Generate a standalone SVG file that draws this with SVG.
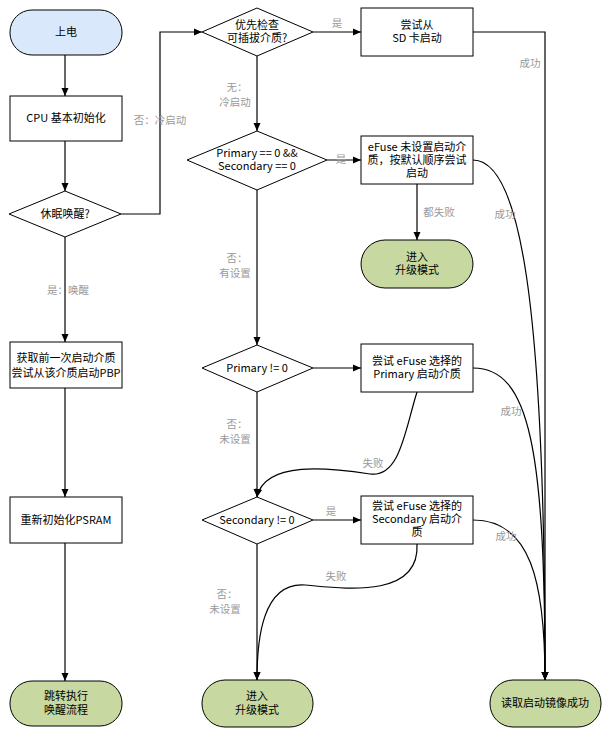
<svg xmlns="http://www.w3.org/2000/svg" width="614" height="740" viewBox="0 0 614 740">
<defs>
<marker id="a" markerWidth="10" markerHeight="10" refX="9" refY="5" orient="auto" markerUnits="userSpaceOnUse"><path d="M1,1.5 L9,5 L1,8.5 Z" fill="#000"/></marker>
<style>
text{font-family:"Noto Sans CJK SC","Noto Sans",sans-serif;font-size:11px;text-anchor:middle;fill:#000}
.l{fill:#999;font-size:10.5px}
.c{fill:none;stroke:#000;stroke-width:1.2;marker-end:url(#a)}
.b{fill:#fff;stroke:#000;stroke-width:1}
.t{fill:#c7d8a0;stroke:#000;stroke-width:1}
</style>
</defs>
<rect width="614" height="740" fill="#fff"/>
<g id="connectors">
<path class="c" d="M65 55V96"/>
<path class="c" d="M65 141V191"/>
<path class="c" d="M65 237V342"/>
<path class="c" d="M65 388V497"/>
<path class="c" d="M65 543V681"/>
<path class="c" d="M121 214H160V32H202"/>
<path class="c" d="M313 32H361"/>
<path class="c" d="M257 56V131"/>
<path class="c" d="M327 160H361"/>
<path class="c" d="M417 184V240"/>
<path class="c" d="M257 190V345"/>
<path class="c" d="M313 368H361"/>
<path class="c" d="M257 392V497"/>
<path class="c" d="M313 520H361"/>
<path class="c" d="M257 544V680"/>
<path class="c" d="M473 32H545V680"/>
<path class="c" d="M473 160C520 160 545 300 545 680"/>
<path class="c" d="M473 368C530 368 545 450 545 680"/>
<path class="c" d="M473 520C530 520 545 580 545 680"/>
<path class="c" d="M417 392C405 430 400 478 370 474C330 468 265 460 257 497"/>
<path class="c" d="M417 544C420 600 340 588 305 585C262 582 257 640 257 680"/>
<text class="l" x="160" y="124">否：冷启动</text>
<text class="l" x="68" y="294">是：唤醒</text>
<text class="l" x="337" y="27">是</text>
<text class="l" x="530" y="67">成功</text>
<text class="l" x="237" y="91">无：</text>
<text class="l" x="235" y="106">冷启动</text>
<text class="l" x="341" y="163">是</text>
<text class="l" x="439" y="216">都失败</text>
<text class="l" x="505" y="218">成功</text>
<text class="l" x="237" y="262">否：</text>
<text class="l" x="235" y="277">有设置</text>
<text class="l" x="237" y="428">否：</text>
<text class="l" x="235" y="443">未设置</text>
<text class="l" x="373" y="467">失败</text>
<text class="l" x="331" y="515">是</text>
<text class="l" x="506" y="540">成功</text>
<text class="l" x="336" y="580">失败</text>
<text class="l" x="227" y="598">否：</text>
<text class="l" x="225" y="613">未设置</text>
<text class="l" x="511" y="415">成功</text>
</g>
<g id="start"><rect x="10" y="10" width="112" height="45" rx="22" fill="#dae8fc" stroke="#000"/><text x="66" y="36">上电</text></g>
<g id="cpu"><rect class="b" x="10" y="96" width="112" height="45"/><text x="66" y="122">CPU 基本初始化</text></g>
<g id="sleep"><path class="b" d="M65 191L121 214L65 237L9 214Z"/><text x="65" y="218">休眠唤醒?</text></g>
<g id="pbp"><rect class="b" x="10" y="342" width="112" height="46"/><text x="66" y="362">获取前一次启动介质</text><text x="66" y="377">尝试从该介质启动PBP</text></g>
<g id="psram"><rect class="b" x="10" y="497" width="112" height="46"/><text x="66" y="524">重新初始化PSRAM</text></g>
<g id="wake"><rect class="t" x="10" y="681" width="112" height="45" rx="22"/><text x="66" y="700">跳转执行</text><text x="66" y="714">唤醒流程</text></g>
<g id="prio"><path class="b" d="M257 8L313 32L257 56L202 32Z"/><text x="257" y="29">优先检查</text><text x="257" y="42">可插拔介质?</text></g>
<g id="both"><path class="b" d="M257 131L327 160L257 190L187 160Z"/><text x="257" y="157">Primary == 0 &amp;&amp;</text><text x="257" y="170">Secondary == 0</text></g>
<g id="pri"><path class="b" d="M257 345L313 368L257 392L202 368Z"/><text x="257" y="372">Primary != 0</text></g>
<g id="sec"><path class="b" d="M257 497L313 520L257 544L202 520Z"/><text x="257" y="524">Secondary  != 0</text></g>
<g id="upg2"><rect class="t" x="202" y="680" width="111" height="47" rx="23"/><text x="257" y="700">进入</text><text x="257" y="714">升级模式</text></g>
<g id="sd"><rect class="b" x="361" y="8" width="112" height="48"/><text x="417" y="29">尝试从</text><text x="417" y="42">SD 卡启动</text></g>
<g id="efuse"><rect class="b" x="361" y="136" width="112" height="48"/><text x="417" y="151">eFuse 未设置启动介</text><text x="417" y="164">质，按默认顺序尝试</text><text x="417" y="177">启动</text></g>
<g id="upg1"><rect class="t" x="361" y="240" width="112" height="48" rx="24"/><text x="417" y="261">进入</text><text x="417" y="274">升级模式</text></g>
<g id="trypri"><rect class="b" x="361" y="344" width="112" height="48"/><text x="417" y="365">尝试 eFuse 选择的</text><text x="417" y="378">Primary 启动介质</text></g>
<g id="trysec"><rect class="b" x="361" y="496" width="112" height="48"/><text x="417" y="510">尝试 eFuse 选择的</text><text x="417" y="523">Secondary 启动介</text><text x="417" y="536">质</text></g>
<g id="ok"><rect class="t" x="490" y="680" width="111" height="47" rx="23"/><text x="545" y="707">读取启动镜像成功</text></g>
</svg>
